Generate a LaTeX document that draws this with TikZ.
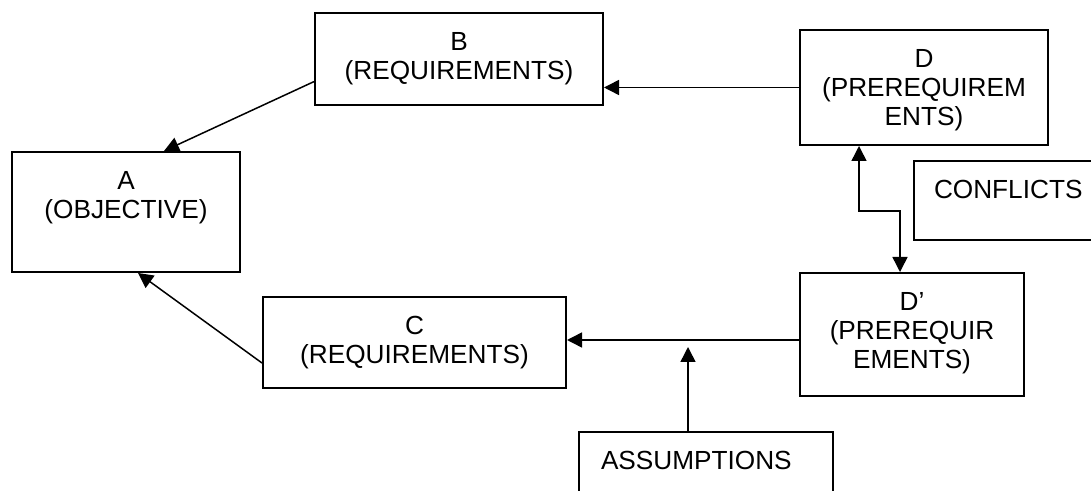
\documentclass[tikz,border=0pt]{standalone}
\usepackage{fontspec}
\setmainfont{Liberation Sans}
\usetikzlibrary{arrows.meta, positioning, calc}

% text block of a box: width, height, lines (first line pushed down)
\newcommand{\boxtext}[4][\centering]{%
  \parbox[c][#3][t]{#2}{#1\rule{0pt}{18.6pt}#4}}

\begin{document}
\begin{tikzpicture}[
    x=0.5pt, y=-0.5pt,
    box/.style={
        rectangle, draw=black, line width=1pt, fill=white,
        inner sep=0pt, anchor=north west,
        font=\fontsize{13.1}{14.5}\selectfont
    },
    arr/.style={-{Triangle[length=7.5pt, width=7.5pt]}, line width=0.75pt},
    darr/.style={{Triangle[length=7.5pt, width=7.5pt]}-{Triangle[length=7.5pt, width=7.5pt]}, line width=0.75pt},
]
\useasboundingbox (0,0) rectangle (1091,491);
\clip (0,0) rectangle (1091,491);

% Nodes
\node[box] (a) at (11,151) {\boxtext{114pt}{60pt}{A\\(OBJECTIVE)}};
\node[box] (b) at (314,12) {\boxtext{144pt}{46pt}{B\\(REQUIREMENTS)}};
\node[box] (c) at (262,296) {\boxtext{151.5pt}{45.5pt}{C\\(REQUIREMENTS)}};
\node[box] (d) at (799,29) {\boxtext{124pt}{57.5pt}{D\\(PREREQUIREM\\ENTS)}};
\node[box] (dprime) at (799,272) {\boxtext{112pt}{61.5pt}{D’\\(PREREQUIR\\EMENTS)}};
\node[box] (conflicts) at (913,160) {\boxtext[\raggedright\hspace*{10pt}]{100pt}{39.5pt}{CONFLICTS}};
\node[box] (assump) at (578,431) {\boxtext[\raggedright\hspace*{11pt}]{127pt}{40pt}{ASSUMPTIONS}};

% Requirements -> objective
\draw[arr] ([yshift=-11.3pt]b.west) -- ([xshift=19pt]a.north);
\draw[arr] ([yshift=-10.25pt]c.west) -- ([xshift=6pt]a.south);

% Prerequirements -> requirements
\draw[arr] (d.west) -- (d.west -| b.east);
\draw[arr] ([yshift=1.25pt]c.east -| dprime.west) -- ([yshift=1.25pt]c.east);

% Assumptions feed the lower arrow
\coordinate (meet) at (688,347);
\draw[arr] (assump.north -| meet) -- (meet);

% Conflict link D <-> D'
\coordinate (bend) at (880,211);
\draw[darr] ([xshift=-32.5pt]d.south) |- (bend) -| ([xshift=-6pt]dprime.north);

\end{tikzpicture}
\end{document}
